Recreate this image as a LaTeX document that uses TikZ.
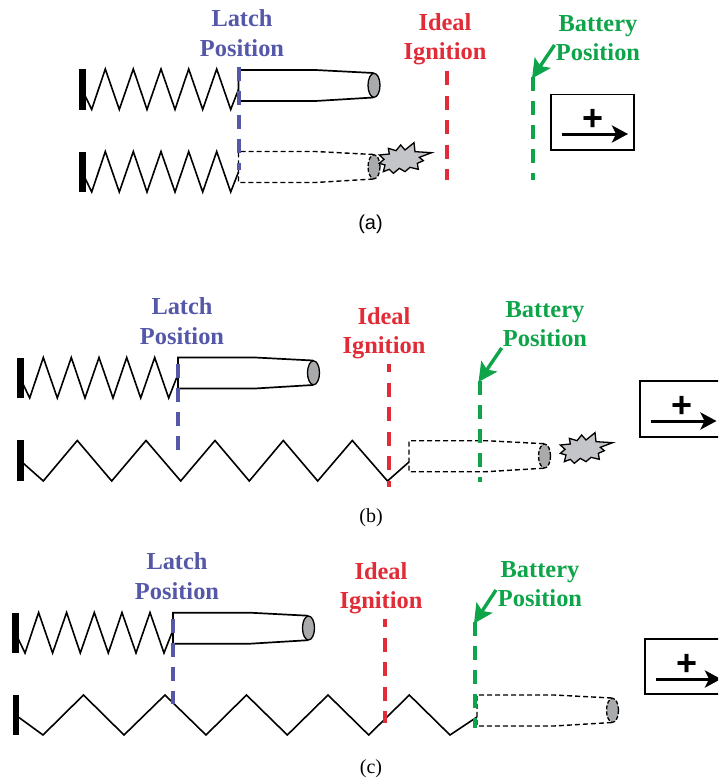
\documentclass[tikz,border=0pt]{standalone}
\usepackage{fontspec}
\setmainfont{Liberation Serif}
\newfontfamily\capsans{Liberation Sans}
\usetikzlibrary{arrows.meta}
\definecolor{latchc}{HTML}{5558A8}
\definecolor{ignc}{HTML}{E12B36}
\definecolor{batc}{HTML}{0EA44A}
\definecolor{capc}{HTML}{A9AAAC}
\definecolor{burstc}{HTML}{C4C5C9}
\tikzset{
  wall/.style={fill=black,draw=none},
  spr/.style={draw=black,line width=1.6pt,line join=miter},
  bodysolid/.style={draw=black,line width=1.7pt},
  bodydash/.style={draw=black,line width=1.4pt,dash pattern=on 5pt off 3pt},
  capsolid/.style={draw=black,fill=capc,line width=1.3pt},
  capdash/.style={draw=black,fill=capc,line width=1.3pt,dash pattern=on 4pt off 2pt},
  latchline/.style={draw=latchc,line width=4pt,dash pattern=on 14pt off 10pt},
  ignline/.style={draw=ignc,line width=4pt,dash pattern=on 14pt off 10.5pt},
  ignshort/.style={ignline,dash phase=6pt},
  batline/.style={draw=batc,line width=4pt,dash pattern=on 13.5pt off 10.5pt},
  batarrow/.style={draw=batc,line width=3.4pt,-{Stealth[length=19pt,width=19pt,inset=4pt]}},
  dirbox/.style={draw=black,line width=1.8pt},
  dirarrow/.style={draw=black,line width=3pt,-{Stealth[length=16pt,width=17pt,inset=4pt]}},
  plusmark/.style={inner sep=0pt,font=\capsans\bfseries\fontsize{36}{36}\selectfont},
  lab/.style={inner sep=0pt,align=center,font=\bfseries\fontsize{24.4}{29.5}\selectfont},
  burst/.style={draw=black,fill=burstc,line width=1.3pt,line join=miter},
}
\newcommand{\topspring}[2]{%
  \begin{scope}[shift={(#1,#2)}]
    \fill[wall] (17,357.5) rectangle (23.5,398);
    \draw[spr] (23,384)--(29.7,398)--(43.3,357.5)--(57.3,398)--(71.3,357.5)--(85,398)--(99,357.5)--(113,398)--(126.7,357.5)--(140.7,398)--(154.7,357.5)--(168.7,398)--(176.5,378);
  \end{scope}}
\newcommand{\projectile}[4]{%
  \begin{scope}[shift={(#1,#2)}]
    \draw[#3] (135,3)--(77,0)--(0,0)--(0,31)--(77,31)--(135,27.5);
    \draw[#4] (135.5,15.3) ellipse (6pt and 12pt);
  \end{scope}}
\newcommand{\burstshape}[2]{%
  \begin{scope}[shift={(#1,#2)},scale=1/3]
    \draw[burst] (58,75)--(88,72)--(85,55)--(108,62)--(122,45)--(135,60)--(162,38)--(165,65)--(215,68)--(178,82)--(190,92)--(172,100)--(175,118)--(150,112)--(135,125)--(118,115)--(100,130)--(88,118)--(70,125)--(75,105)--(58,100)--(72,88)--cycle;
  \end{scope}}
\begin{document}
\begin{tikzpicture}[x=1pt,y=-1pt]
\path[use as bounding box] (0,0) rectangle (718,779);
\clip (0,0) rectangle (718,779);
% ---- panel (a)
\topspring{62}{-288.5}
\projectile{238.5}{70}{bodysolid}{capsolid}
\topspring{62}{-206}
\projectile{238.5}{151.5}{bodydash}{capdash}
\burstshape{360}{130}
\coordinate (la1) at (238.5,67); \coordinate (la2) at (238.5,170);
\coordinate (ia1) at (447,71); \coordinate (ia2) at (447,180);
\coordinate (ba1) at (533,77); \coordinate (ba2) at (533,180);
\coordinate (bas) at (554.5,45); \coordinate (bat) at (532,78.5);
\draw[latchline] (la1)--(la2);
\draw[ignline] (ia1)--(ia2);
\draw[batline] (ba1)--(ba2);
\draw[batarrow] (bas)--(bat);
\node[lab,text=latchc] (lla) at (242,33) {Latch\\Position};
\node[lab,text=ignc] (lia) at (445,39) {Ideal\\Ignition};
\node[lab,text=batc] (lba) at (598,38) {Battery\\Position};
\draw[dirbox] (551,94.5) rectangle (634.3,150);
\coordinate (da1) at (561.7,134); \coordinate (da2) at (628,134);
\draw[dirarrow] (da1)--(da2);
\node[plusmark] (pa) at (592.7,120) {+};
\node[inner sep=0pt,font=\capsans\fontsize{20}{24}\selectfont] (ca) at (370.5,224) {(a)};
% ---- panel (b)
\topspring{0}{0}
\projectile{178}{357.5}{bodysolid}{capsolid}
\fill[wall] (17,440) rectangle (23.5,481);
\draw[spr] (23,463)--(43.3,481)--(77.3,440.5)--(111.7,481)--(146,440.5)--(180.7,481)--(215,440.5)--(249.3,481)--(283.3,440.5)--(317.7,481)--(352.3,440.5)--(387.5,481)--(409,462);
\projectile{409}{440.7}{bodydash}{capdash}
\burstshape{541}{420}
\coordinate (lb1) at (178,364); \coordinate (lb2) at (178,450);
\coordinate (ib1) at (389,364); \coordinate (ib2) at (389,487);
\coordinate (bb1) at (480,381); \coordinate (bb2) at (480,482);
\coordinate (bbs) at (501.7,348); \coordinate (bbt) at (478.5,382);
\draw[latchline] (lb1)--(lb2);
\draw[ignshort] (ib1)--(ib2);
\draw[batline] (bb1)--(bb2);
\draw[batarrow] (bbs)--(bbt);
\node[lab,text=latchc] (llb) at (182,321) {Latch\\Position};
\node[lab,text=ignc] (lib) at (384,333) {Ideal\\Ignition};
\node[lab,text=batc] (lbb) at (545,324) {Battery\\Position};
\draw[dirbox] (640,380.7) rectangle (760,436.7);
\coordinate (db1) at (651,421); \coordinate (db2) at (716.5,421);
\draw[dirarrow] (db1)--(db2);
\node[plusmark] (pb) at (681.7,407) {+};
\node[inner sep=0pt,font=\fontsize{20}{24}\selectfont] (cb) at (371,518) {(b)};
% ---- panel (c)
\topspring{-4.7}{255}
\projectile{173}{612.7}{bodysolid}{capsolid}
\fill[wall] (13,695) rectangle (19,735);
\draw[spr] (19,717.5)--(43,735)--(83.5,695)--(124,735)--(165,695)--(206,735)--(246.5,695)--(287.3,735)--(328,695)--(368.7,735)--(409.3,695)--(450,735)--(477,717);
\projectile{477}{695}{bodydash}{capdash}
\coordinate (lc1) at (173,619); \coordinate (lc2) at (173,704);
\coordinate (ic1) at (385,619); \coordinate (ic2) at (385,723);
\coordinate (bc1) at (475,622); \coordinate (bc2) at (475,728);
\coordinate (bcs) at (496,590); \coordinate (bct) at (474,623.5);
\draw[latchline] (lc1)--(lc2);
\draw[ignshort] (ic1)--(ic2);
\draw[batline] (bc1)--(bc2);
\draw[batarrow] (bcs)--(bct);
\node[lab,text=latchc] (llc) at (177,576) {Latch\\Position};
\node[lab,text=ignc] (lic) at (381,588) {Ideal\\Ignition};
\node[lab,text=batc] (lbc) at (540,584) {Battery\\Position};
\draw[dirbox] (645,639) rectangle (760,694);
\coordinate (dc1) at (656,679); \coordinate (dc2) at (721,679);
\draw[dirarrow] (dc1)--(dc2);
\node[plusmark] (pc) at (686.7,665) {+};
\node[inner sep=0pt,font=\fontsize{20}{24}\selectfont] (cc) at (371,769) {(c)};
\end{tikzpicture}
\end{document}
